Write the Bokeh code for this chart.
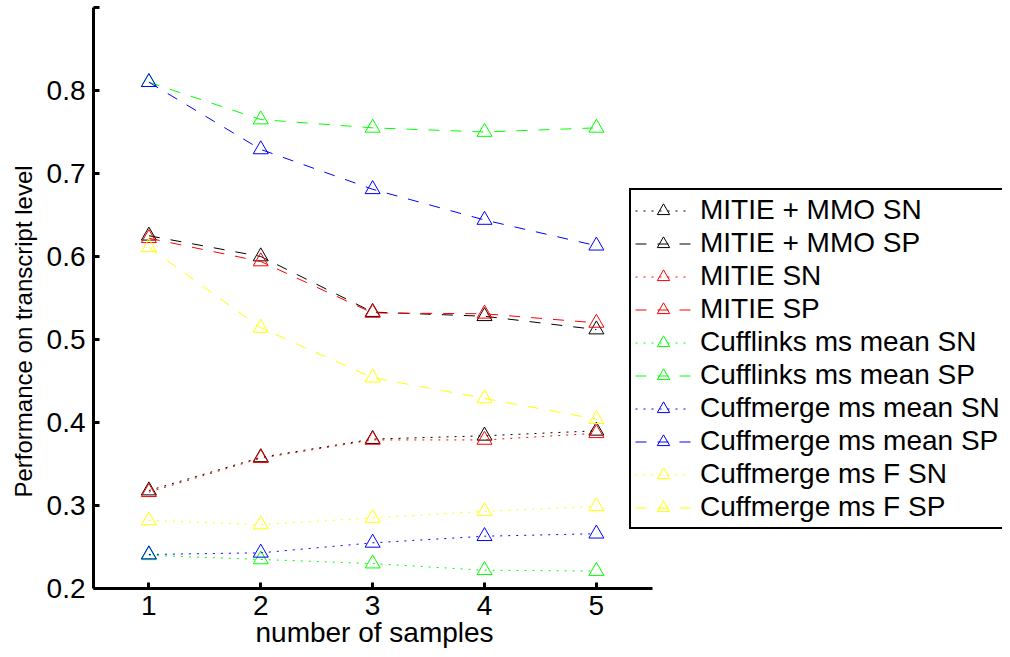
from bokeh.plotting import figure
from bokeh.models import Range1d, FixedTicker, Legend, LegendItem, Title
from bokeh.embed import file_html
from bokeh.resources import INLINE

samples = [1, 2, 3, 4, 5]

mitie_mmo_sn = [0.318, 0.358, 0.380, 0.384, 0.390]
mitie_mmo_sp = [0.625, 0.600, 0.533, 0.528, 0.512]
mitie_sn = [0.316, 0.357, 0.379, 0.379, 0.387]
mitie_sp = [0.622, 0.594, 0.532, 0.531, 0.520]
cufflinks_mean_sn = [0.240, 0.235, 0.230, 0.222, 0.221]
cufflinks_mean_sp = [0.810, 0.765, 0.755, 0.750, 0.755]
cuffmerge_mean_sn = [0.241, 0.243, 0.255, 0.263, 0.266]
cuffmerge_mean_sp = [0.810, 0.729, 0.681, 0.644, 0.613]
cuffmerge_f_sn = [0.282, 0.277, 0.285, 0.293, 0.299]
cuffmerge_f_sp = [0.611, 0.514, 0.454, 0.429, 0.404]

series_names = ["MITIE + MMO SN", "MITIE + MMO SP", "MITIE SN", "MITIE SP",
                "Cufflinks ms mean SN", "Cufflinks ms mean SP",
                "Cuffmerge ms mean SN", "Cuffmerge ms mean SP",
                "Cuffmerge ms F SN", "Cuffmerge ms F SP"]
series_values = [mitie_mmo_sn, mitie_mmo_sp, mitie_sn, mitie_sp,
                 cufflinks_mean_sn, cufflinks_mean_sp,
                 cuffmerge_mean_sn, cuffmerge_mean_sp,
                 cuffmerge_f_sn, cuffmerge_f_sp]
series_colors = ["#000000", "#000000", "#ff0000", "#ff0000",
                 "#00ff00", "#00ff00", "#0000ff", "#0000ff",
                 "#ffff00", "#ffff00"]

y_ticks = [0.2, 0.3, 0.4, 0.5, 0.6, 0.7, 0.8, 0.9]
y_tick_labels = ["0.2", "0.3", "0.4", "0.5", "0.6", "0.7", "0.8", ""]
x_ticks = [1, 2, 3, 4, 5]

FONT = "Liberation Sans"

# x range extends past 5.5 so the legend can sit inside the frame;
# the visible axis line is limited to ..5.5 with bounds
p = figure(width=1002, height=649, output_backend="svg", toolbar_location=None,
           x_range=Range1d(0.505, 8.63), y_range=Range1d(0.2, 0.9),
           min_border_left=92, min_border_right=0, min_border_top=7,
           min_border_bottom=61)
p.outline_line_color = None
p.xgrid.grid_line_color = None
p.ygrid.grid_line_color = None
p.background_fill_color = "white"
p.border_fill_color = "white"

items = []
for name, vals, col in zip(series_names, series_values, series_colors):
    dash = "2 6" if name.endswith("SN") else "11 11"
    r1 = p.line(samples, vals, line_color=col, line_width=1, line_dash=dash)
    r2 = p.scatter(samples, vals, marker="triangle", size=15, line_color=col,
                   fill_color=None, line_width=1)
    items.append(LegendItem(label=name, renderers=[r1, r2]))

for ax in (p.xaxis[0], p.yaxis[0]):
    ax.axis_line_width = 3
    ax.axis_line_color = "black"
    ax.major_tick_line_width = 3
    ax.major_tick_in = 6
    ax.major_tick_out = 0
    ax.minor_tick_line_color = None
    ax.major_label_text_font = FONT
    ax.major_label_text_font_size = "28px"
    ax.major_label_text_color = "black"

p.xaxis[0].bounds = (0.505, 5.5)
p.xaxis[0].ticker = FixedTicker(ticks=x_ticks)
p.xaxis[0].major_label_standoff = 7

p.yaxis[0].ticker = FixedTicker(ticks=y_ticks)
p.yaxis[0].major_label_overrides = {t: l for t, l in zip(y_ticks, y_tick_labels)}
p.yaxis[0].major_label_standoff = 8

xlab = Title(text="number of samples", align="left", offset=162, standoff=-6,
             text_font=FONT, text_font_size="28px", text_font_style="normal",
             text_color="black")
p.add_layout(xlab, "below")

ylab = Title(text="Performance on transcript level", align="left", offset=91,
             standoff=14, text_font=FONT, text_font_size="24px",
             text_font_style="normal", text_color="black")
p.add_layout(ylab, "left")

legend = Legend(items=items, location=(536, 59))
legend.label_text_font = FONT
legend.label_text_font_size = "28px"
legend.label_text_color = "black"
legend.glyph_width = 56
legend.glyph_height = 31
legend.label_height = 31
legend.spacing = 1
legend.padding = 4
legend.margin = 0
legend.label_standoff = 9
legend.border_line_color = "black"
legend.border_line_alpha = 1.0
legend.border_line_width = 2
legend.background_fill_color = "white"
legend.background_fill_alpha = 1.0
p.add_layout(legend, "center")

open("out.html", "w").write(file_html(p, INLINE))
